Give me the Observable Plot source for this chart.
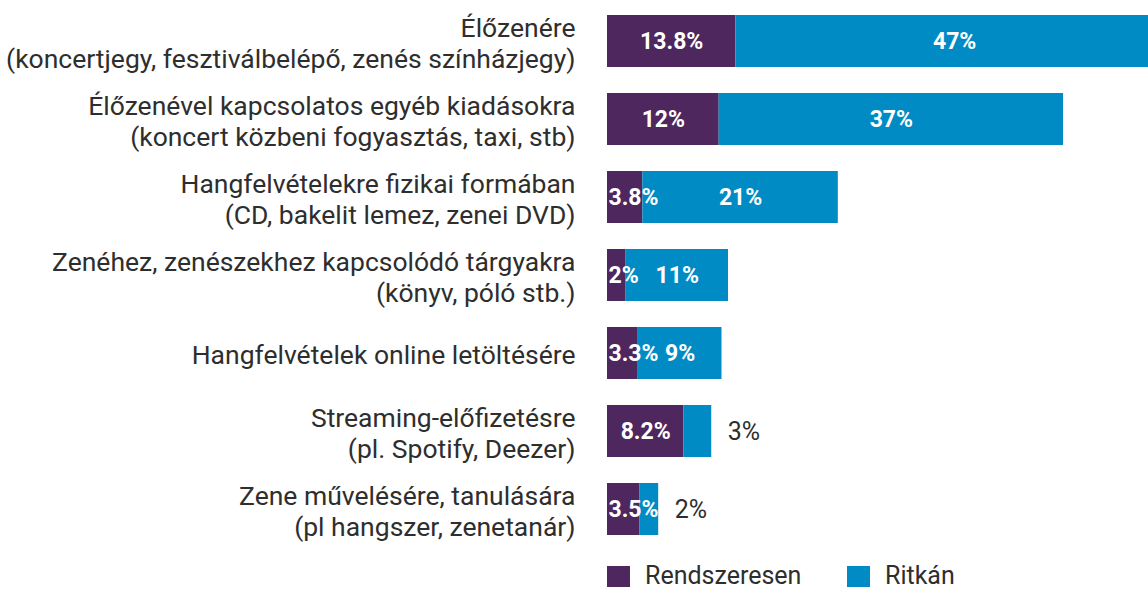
<!DOCTYPE html>
<html>
<head>
<meta charset="utf-8">
<script src="https://cdn.jsdelivr.net/npm/d3@7"></script>
<script src="https://cdn.jsdelivr.net/npm/@observablehq/plot@0.6"></script>
<style>
  html, body { margin: 0; padding: 0; background: #fff; overflow: hidden; }
  #chart svg { display: block; }
  .legend { position: relative; height: 22px; margin-top: 9px; font-family: Roboto, sans-serif; font-size: 25px; line-height: 22px; color: #2e2e2e; }
  .legend .item { position: absolute; top: 0; display: flex; align-items: center; height: 22px; }
  .legend .sw { width: 23px; height: 21px; margin-right: 15px; }
</style>
</head>
<body>
<div id="chart"></div>
<div class="legend" id="legend"></div>
<script>
const categories = [
  "Élőzenére\n(koncertjegy, fesztiválbelépő, zenés színházjegy)",
  "Élőzenével kapcsolatos egyéb kiadásokra\n(koncert közbeni fogyasztás, taxi, stb)",
  "Hangfelvételekre fizikai formában\n(CD, bakelit lemez, zenei DVD)",
  "Zenéhez, zenészekhez kapcsolódó tárgyakra\n(könyv, póló stb.)",
  "Hangfelvételek online letöltésére",
  "Streaming-előfizetésre\n(pl. Spotify, Deezer)",
  "Zene művelésére, tanulására\n(pl hangszer, zenetanár)"
];
const rendszeresen = [13.8, 12, 3.8, 2, 3.3, 8.2, 3.5];
const ritkan = [47, 37, 21, 11, 9, 3, 2];
const seriesNames = ["Rendszeresen", "Ritkán"];
const seriesColors = ["#4e275f", "#008bc5"];

const rows = [];
categories.forEach((c, i) => {
  rows.push({cat: c, series: seriesNames[0], value: rendszeresen[i], start: 0, end: rendszeresen[i]});
  rows.push({cat: c, series: seriesNames[1], value: ritkan[i], start: rendszeresen[i], end: rendszeresen[i] + ritkan[i]});
});
const fmt = d => d.value + "%";
const mid = d => (d.start + d.end) / 2;

const insideMid = rows.filter(d => (d.series === seriesNames[0] && d.value >= 5) || (d.series === seriesNames[1] && d.value > 3));
const insideStart = rows.filter(d => d.series === seriesNames[0] && d.value < 5);
const outside = rows.filter(d => d.series === seriesNames[1] && d.value <= 3);

const plot = Plot.plot({
  width: 1148,
  height: 556,
  marginLeft: 607,
  marginRight: 0,
  marginTop: 0,
  marginBottom: 0,
  style: {fontFamily: "Roboto, sans-serif", fontSize: "26.5px", color: "#2e2e2e", background: "#fff"},
  x: {domain: [0, 58.13], axis: null},
  y: {domain: categories, range: [14, 536], paddingInner: 0.333, paddingOuter: 0},
  color: {domain: seriesNames, range: seriesColors},
  marks: [
    Plot.barX(rows, {x1: "start", x2: "end", y: "cat", fill: "series", clip: true}),
    Plot.axisY({anchor: "left", tickSize: 0, tickPadding: 32, label: null, fontSize: 26.5, lineHeight: 1.17, dy: 1}),
    Plot.text(insideMid, {x: mid, y: "cat", text: fmt, fill: "white", fontWeight: "bold", fontSize: 23}),
    Plot.text(insideStart, {x: "start", y: "cat", text: fmt, fill: "white", fontWeight: "bold", fontSize: 23, textAnchor: "start", dx: 1}),
    Plot.text(outside, {x: "end", y: "cat", text: fmt, fill: "#2e2e2e", fontSize: 25, textAnchor: "start", dx: 16})
  ]
});
document.getElementById("chart").appendChild(plot);

const legend = document.getElementById("legend");
const legendX = [607, 847];
seriesNames.forEach((s, i) => {
  const item = document.createElement("div");
  item.className = "item";
  item.style.left = legendX[i] + "px";
  const sw = document.createElement("span");
  sw.className = "sw";
  sw.style.background = seriesColors[i];
  const t = document.createElement("span");
  t.textContent = s;
  item.appendChild(sw);
  item.appendChild(t);
  legend.appendChild(item);
});
</script>
</body>
</html>
